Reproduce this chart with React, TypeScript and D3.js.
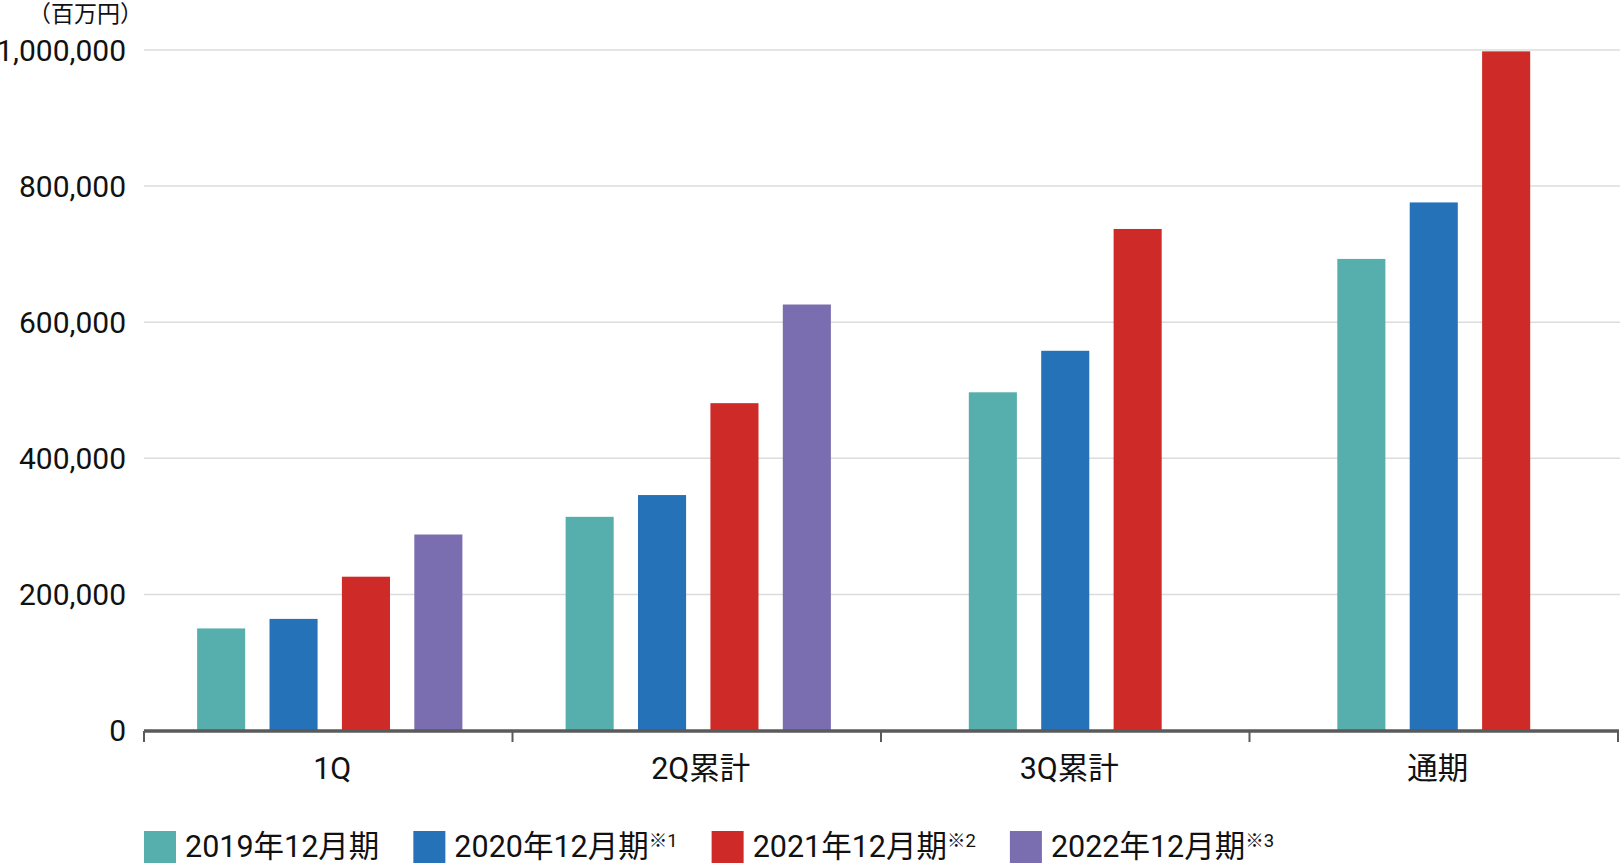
import React, { useEffect, useRef } from "react";
import * as d3 from "d3";

const categories = ["1Q", "2Q累計", "3Q累計", "通期"];
const seriesNames = ["2019年12月期", "2020年12月期", "2021年12月期", "2022年12月期"];
const seriesNotes = ["", "※1", "※2", "※3"];
const seriesColors = ["#56afac", "#2672b8", "#ce2a28", "#7a6db0"];
const values2019 = [150000, 314000, 497000, 693000];
const values2020 = [164000, 346000, 558000, 776000];
const values2021 = [226000, 481000, 737000, 998000];
const values2022: (number | null)[] = [288000, 626000, null, null];
const yTicks = [0, 200000, 400000, 600000, 800000, 1000000];
const unitLabel = "（百万円）";

const allSeries = [values2019, values2020, values2021, values2022];

const W = 1620;
const H = 863;
const FONT = "Roboto, 'Noto Sans CJK JP', sans-serif";

export default function App() {
  const ref = useRef<SVGSVGElement>(null);

  useEffect(() => {
    const svg = d3.select(ref.current);
    svg.selectAll("*").remove();

    const left = 144;
    const right = 1618;
    const y = d3.scaleLinear().domain([0, 1000000]).range([730.5, 50]);
    const x = d3.scaleBand<string>().domain(categories).range([left, right]).padding(0);

    // gridlines
    svg
      .append("g")
      .selectAll("line")
      .data(yTicks.filter((t) => t > 0))
      .join("line")
      .attr("x1", left)
      .attr("x2", W)
      .attr("y1", (d) => y(d))
      .attr("y2", (d) => y(d))
      .attr("stroke", "#dcdcdc")
      .attr("stroke-width", 1.5);

    // y labels
    svg
      .append("g")
      .selectAll("text")
      .data(yTicks)
      .join("text")
      .attr("x", 126)
      .attr("y", (d) => y(d))
      .attr("dy", "0.355em")
      .attr("text-anchor", "end")
      .attr("font-family", FONT)
      .attr("font-size", 30)
      .attr("fill", "#111")
      .text((d) => d3.format(",")(d));

    svg
      .append("text")
      .attr("x", 28)
      .attr("y", 22)
      .attr("font-family", "'Noto Sans CJK JP', sans-serif")
      .attr("font-size", 23)
      .attr("fill", "#111")
      .text(unitLabel);

    // bars
    const step = 72.4;
    const gBars = svg.append("g");
    categories.forEach((cat, ci) => {
      const present = allSeries
        .map((s, si) => ({ si, v: s[ci] }))
        .filter((d) => d.v !== null && d.v !== undefined) as { si: number; v: number }[];
      const n = present.length;
      const cx = (x(cat) as number) + x.bandwidth() / 2 + (n === 4 ? 1.5 : 0);
      const inner = d3
        .scaleBand<number>()
        .domain(present.map((d) => d.si))
        .range([cx - (n * step) / 2, cx + (n * step) / 2])
        .paddingInner(0.336)
        .paddingOuter(0.168);
      gBars
        .selectAll(null)
        .data(present)
        .join("rect")
        .attr("x", (d) => inner(d.si) as number)
        .attr("width", inner.bandwidth())
        .attr("y", (d) => y(d.v))
        .attr("height", (d) => y(0) - y(d.v))
        .attr("fill", (d) => seriesColors[d.si]);
    });

    // x axis
    svg
      .append("line")
      .attr("x1", left)
      .attr("x2", right + 1)
      .attr("y1", 731)
      .attr("y2", 731)
      .attr("stroke", "#5a5a5a")
      .attr("stroke-width", 3.5);
    const tickXs = categories.map((c) => x(c) as number).concat([right]);
    svg
      .append("g")
      .selectAll("line")
      .data(tickXs)
      .join("line")
      .attr("x1", (d) => d)
      .attr("x2", (d) => d)
      .attr("y1", 731)
      .attr("y2", 742)
      .attr("stroke", "#5a5a5a")
      .attr("stroke-width", 2);
    svg
      .append("g")
      .selectAll("text")
      .data(categories)
      .join("text")
      .attr("x", (d) => (x(d) as number) + x.bandwidth() / 2 + 4)
      .attr("y", 779)
      .attr("text-anchor", "middle")
      .attr("font-family", FONT)
      .attr("font-size", 30.5)
      .attr("fill", "#111")
      .text((d) => d);

    // legend
    let lx = 144;
    const legend = svg.append("g");
    seriesNames.forEach((name, i) => {
      legend
        .append("rect")
        .attr("x", lx)
        .attr("y", 831)
        .attr("width", 32)
        .attr("height", 32)
        .attr("fill", seriesColors[i]);
      const t = legend
        .append("text")
        .attr("x", lx + 41)
        .attr("y", 857)
        .attr("font-family", FONT)
        .attr("font-size", 30.5)
        .attr("fill", "#111");
      t.append("tspan").text(name);
      if (seriesNotes[i]) {
        t.append("tspan").attr("font-size", 18.5).attr("dy", -10).text(seriesNotes[i]);
      }
      const w = (t.node() as SVGTextElement).getComputedTextLength();
      lx = lx + 41 + w + 34;
    });
  }, []);

  return (
    <svg
      ref={ref}
      width={W}
      height={H}
      style={{ position: "absolute", left: 0, top: 0, background: "#fff" }}
    />
  );
}
